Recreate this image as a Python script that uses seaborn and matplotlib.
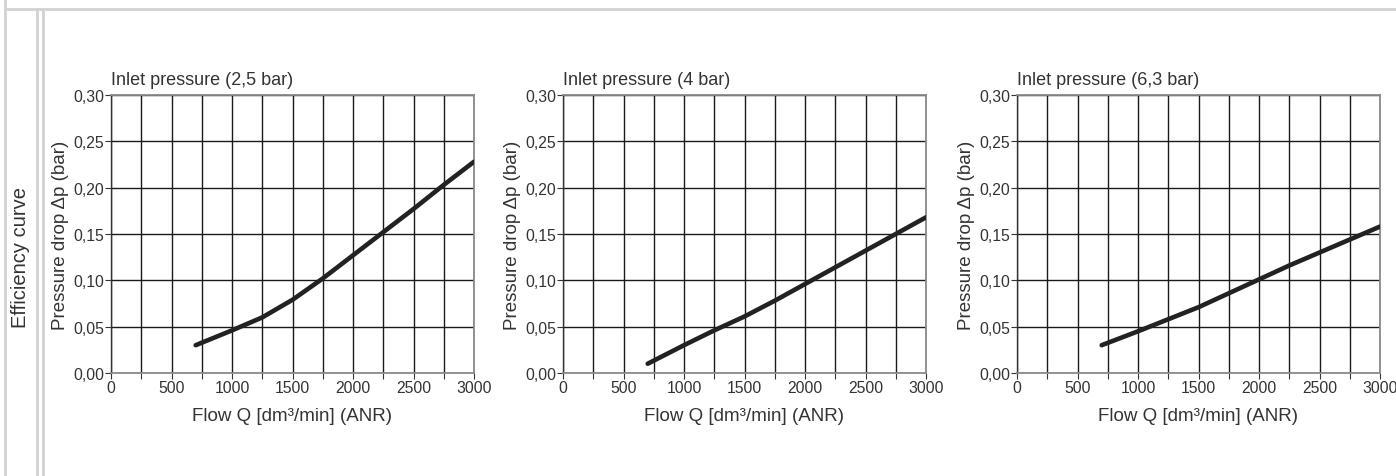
import matplotlib
matplotlib.use("Agg")
import matplotlib.pyplot as plt
import seaborn as sns
import pandas as pd
from matplotlib.lines import Line2D
from matplotlib.ticker import MultipleLocator, FuncFormatter

# data
flow = [700, 1000, 1250, 1500, 1750, 2000, 2250, 2500, 2750, 3000]
drop_25 = [0.030, 0.046, 0.060, 0.079, 0.102, 0.127, 0.152, 0.177, 0.203, 0.228]
drop_4 = [0.010, 0.030, 0.046, 0.061, 0.078, 0.096, 0.114, 0.132, 0.150, 0.168]
drop_63 = [0.030, 0.045, 0.058, 0.071, 0.086, 0.101, 0.116, 0.130, 0.144, 0.158]
titles = ["Inlet pressure (2,5 bar)", "Inlet pressure (4 bar)", "Inlet pressure (6,3 bar)"]

sns.set_style("white")
plt.rcParams["font.family"] = ["Liberation Sans", "DejaVu Sans"]

W, H = 1396, 477
fig = plt.figure(figsize=(W / 100, H / 100), dpi=100)
fig.patch.set_facecolor("white")

# page frame lines
frame_col = "#d2d2d2"
def px_line(x0, y0, x1, y1):
    fig.add_artist(Line2D([x0 / W, x1 / W], [1 - y0 / H, 1 - y1 / H],
                          transform=fig.transFigure, color=frame_col, lw=2))

px_line(5, 10, W, 10)
px_line(5, 0, 5, H)
px_line(37, 10, 37, H)
px_line(43, 10, 43, H)

fig.text(21 / W, 1 - 258 / H, "Efficiency curve", rotation=90, ha="center", va="center",
         fontsize=14.5, color="#333333")

txt = "#333333"
lefts = [111, 563, 1017]
top, bottom, width = 96, 374, 363
series = [drop_25, drop_4, drop_63]

comma = FuncFormatter(lambda v, p: f"{v:.2f}".replace(".", ","))

for left, ys, title in zip(lefts, series, titles):
    ax = fig.add_axes([left / W, 1 - bottom / H, width / W, (bottom - top) / H])
    df = pd.DataFrame({"flow": flow, "drop": ys})
    sns.lineplot(data=df, x="flow", y="drop", ax=ax, color="#222222", lw=3.3,
                 solid_capstyle="round", zorder=5)
    ax.set_xlim(0, 3000)
    ax.set_ylim(0, 0.30)
    ax.xaxis.set_major_locator(MultipleLocator(500))
    ax.xaxis.set_minor_locator(MultipleLocator(250))
    ax.yaxis.set_major_locator(MultipleLocator(0.05))
    ax.yaxis.set_major_formatter(comma)
    ax.grid(True, which="both", axis="x", color="#1a1a1a", lw=1)
    ax.grid(True, which="major", axis="y", color="#1a1a1a", lw=1)
    ax.tick_params(axis="both", which="both", direction="out", length=4, width=0.8,
                   color="#333333", labelcolor=txt, labelsize=11.3, pad=1,
                   bottom=True, left=True)
    ax.tick_params(axis="x", which="minor", length=4)
    for s in ["top", "right", "bottom"]:
        ax.spines[s].set_color("#8a8a8a")
        ax.spines[s].set_linewidth(1.3)
    ax.spines["left"].set_color("#333333")
    ax.spines["left"].set_linewidth(1)
    ax.set_xlabel("Flow Q [dm³/min] (ANR)", fontsize=13.5, color=txt, labelpad=9)
    ax.set_ylabel("Pressure drop Δp (bar)", fontsize=13.5, color=txt, labelpad=3)
    ax.set_title(title, loc="left", fontsize=13, color=txt, pad=8)

fig.savefig("out.png", dpi=100, facecolor="white")
